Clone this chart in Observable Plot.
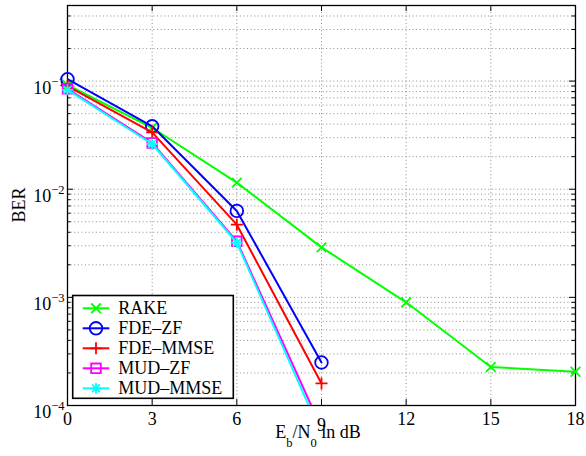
<!DOCTYPE html>
<html>
<head>
<meta charset="utf-8">
<script src="https://cdn.jsdelivr.net/npm/d3@7"></script>
<script src="https://cdn.jsdelivr.net/npm/@observablehq/plot@0.6"></script>
<style>
  body { margin: 0; background: #fff; }
  #chart svg { display: block; }
  #chart svg text { font-family: "Liberation Serif", "Times New Roman", "DejaVu Serif", serif; }
</style>
</head>
<body>
<div id="chart"></div>
<script>
// Eb/N0 values (dB)
const snrAll = [0, 3, 6, 9, 12, 15, 18];
const snrShort = [0, 3, 6, 9];

// Bit error rates per receiver
const berRake    = [0.092, 0.037, 0.0115, 0.0029, 9.0e-4, 2.27e-4, 2.05e-4];
const berFdeZf   = [0.104, 0.0382, 0.0063, 2.5e-4];
const berFdeMmse = [0.090, 0.0336, 0.0047, 1.6e-4];
const berMudZf   = [0.085, 0.0268, 0.0033, 6.2e-5];
const berMudMmse = [0.083, 0.0262, 0.0032, 5.4e-5];

const seriesNames  = ["RAKE", "FDE–ZF", "FDE–MMSE", "MUD–ZF", "MUD–MMSE"];
const seriesColors = ["#00ff00", "#0000ff", "#ff0000", "#ff00ff", "#00ffff"];

// Axis ticks
const xTicks = [0, 3, 6, 9, 12, 15, 18];
const yDecades = [1e-4, 1e-3, 1e-2, 1e-1];
const yDomain = [1e-4, 0.5];
const yMinor = [];
for (const d of yDecades) for (let k = 2; k <= 9; k++) if (k * d < yDomain[1] * 0.999) yMinor.push(k * d);

// Layout
const W = 586, H = 456;
const mL = 67, mR = 11, mT = 5, mB = 51;
const plotW = W - mL - mR, plotH = H - mT - mB;
const FONT = "Liberation Serif, Times New Roman, DejaVu Serif, serif";
const FS = 18, FS_SMALL = 12.5;

// Marker shapes (size = pi * r^2)
const rad = s => Math.sqrt(s / Math.PI);
const symTimes = {draw(c, s) { const a = rad(s) * 0.8; c.moveTo(-a, -a); c.lineTo(a, a); c.moveTo(-a, a); c.lineTo(a, -a); }};
const symCircle = {draw(c, s) { const r = rad(s) * 1.05; c.moveTo(r, 0); c.arc(0, 0, r, 0, 2 * Math.PI); }};
const symPlus = {draw(c, s) { const a = rad(s); c.moveTo(-a, 0); c.lineTo(a, 0); c.moveTo(0, -a); c.lineTo(0, a); }};
const symSquare = {draw(c, s) { const a = rad(s) * 0.8; c.rect(-a, -a, 2 * a, 2 * a); }};
const symStar = {draw(c, s) { const a = rad(s) * 0.9, b = a * 0.72; c.moveTo(-a, 0); c.lineTo(a, 0); c.moveTo(0, -a); c.lineTo(0, a); c.moveTo(-b, -b); c.lineTo(b, b); c.moveTo(-b, b); c.lineTo(b, -b); }};
const seriesSymbols = [symTimes, symCircle, symPlus, symSquare, symStar];

const seriesData = [
  snrAll.map((x, i) => ({snr: x, ber: berRake[i]})),
  snrShort.map((x, i) => ({snr: x, ber: berFdeZf[i]})),
  snrShort.map((x, i) => ({snr: x, ber: berFdeMmse[i]})),
  snrShort.map((x, i) => ({snr: x, ber: berMudZf[i]})),
  snrShort.map((x, i) => ({snr: x, ber: berMudMmse[i]}))
];

const gridStyle = {stroke: "#808080", strokeDasharray: "1,2.6", strokeWidth: 0.9};

const dataMarks = seriesData.flatMap((data, i) => [
  Plot.line(data, {x: "snr", y: "ber", stroke: seriesColors[i], strokeWidth: 2, clip: true}),
  Plot.dot(data, {
    x: "snr", y: "ber", filter: d => d.ber >= yDomain[0],
    symbol: seriesSymbols[i], r: 6, stroke: seriesColors[i], strokeWidth: 1.8, fill: "none"
  })
]);

const chart = Plot.plot({
  width: W, height: H,
  marginLeft: mL, marginRight: mR, marginTop: mT, marginBottom: mB,
  style: {fontFamily: FONT, fontSize: FS + "px", background: "white", color: "black", overflow: "visible"},
  x: {domain: [0, 18]},
  y: {type: "log", domain: yDomain},
  marks: [
    // dotted grid
    Plot.ruleX(xTicks.slice(1, -1), gridStyle),
    Plot.ruleY(yDecades.slice(1), gridStyle),
    Plot.ruleY(yMinor, gridStyle),
    // inward tick marks on all four sides
    Plot.ruleY(yDecades, {stroke: "black", insetRight: plotW - 6}),
    Plot.ruleY(yDecades, {stroke: "black", insetLeft: plotW - 6}),
    Plot.ruleY(yMinor, {stroke: "black", insetRight: plotW - 3.5}),
    Plot.ruleY(yMinor, {stroke: "black", insetLeft: plotW - 3.5}),
    Plot.ruleX(xTicks, {stroke: "black", insetTop: plotH - 6}),
    Plot.ruleX(xTicks, {stroke: "black", insetBottom: plotH - 6}),
    Plot.frame({stroke: "black", strokeWidth: 1.3}),
    Plot.axisX({ticks: xTicks, tickSize: 0, tickPadding: 7, tickFormat: d => String(d), label: null}),
    Plot.axisY({ticks: yDecades, tickSize: 0, tickPadding: 3,
      tickFormat: d => "10^" + Math.round(Math.log10(d)), label: null}),
    ...dataMarks
  ]
});

const svg = d3.select(chart);

// Power-of-ten tick labels with superscript exponents
svg.selectAll("g[aria-label='y-axis tick label'] text").each(function () {
  const t = d3.select(this);
  const [base, exp] = t.text().split("^");
  t.text(null).attr("dy", "0.4em");
  t.append("tspan").text(base);
  t.append("tspan").attr("dy", -8.5).attr("font-size", FS_SMALL).text(exp.replace("-", "\u2212"));
});

// The "9" label sits a little higher, clear of the axis title
svg.selectAll("g[aria-label='x-axis tick label'] text")
  .filter(function () { return d3.select(this).text() === "9"; })
  .attr("dy", "0.32em");

// x-axis title: E_b/N_0 in dB
const xs = chart.scale("x");
const xt = svg.append("text")
  .attr("x", xs.apply(9) - 3).attr("y", 438)
  .attr("text-anchor", "middle")
  .attr("font-family", FONT).attr("font-size", FS).attr("fill", "black");
xt.append("tspan").text("E");
xt.append("tspan").attr("dy", 8.5).attr("font-size", FS_SMALL).text("b");
xt.append("tspan").attr("dy", -8.5).text("/N");
xt.append("tspan").attr("dy", 8.5).attr("font-size", FS_SMALL).text("0");
xt.append("tspan").attr("dy", -8.5).text(" in dB");

// y-axis title
svg.append("text")
  .attr("transform", `translate(25,${(mT + H - mB) / 2}) rotate(-90)`)
  .attr("text-anchor", "middle")
  .attr("font-family", FONT).attr("font-size", FS).attr("fill", "black")
  .text("BER");

// Legend box
const lg = svg.append("g").attr("transform", "translate(72.7,295.5)");
lg.append("rect").attr("width", 160.6).attr("height", 102.8)
  .attr("fill", "white").attr("stroke", "black").attr("stroke-width", 1.6);
seriesNames.forEach((name, i) => {
  const y = 12.8 + i * 20;
  lg.append("line").attr("x1", 10).attr("x2", 36.6).attr("y1", y).attr("y2", y)
    .attr("stroke", seriesColors[i]).attr("stroke-width", 2);
  lg.append("path").attr("transform", `translate(23.3,${y})`)
    .attr("d", d3.symbol(seriesSymbols[i], Math.PI * 36)())
    .attr("fill", "none").attr("stroke", seriesColors[i]).attr("stroke-width", 1.8);
  lg.append("text").attr("x", 45.6).attr("y", y + 6)
    .attr("text-anchor", "start")
    .attr("font-family", FONT).attr("font-size", FS).attr("fill", "black")
    .text(name);
});

document.getElementById("chart").appendChild(chart);
</script>
</body>
</html>
